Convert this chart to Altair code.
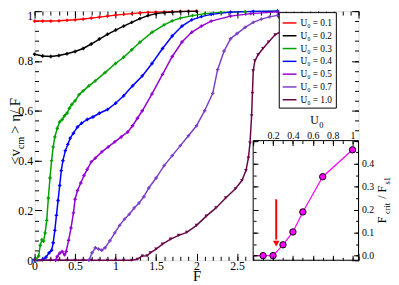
import altair as alt
import pandas as pd

# ---------------- data ----------------
LABELS = ["U₀ = 0.1", "U₀ = 0.2", "U₀ = 0.3", "U₀ = 0.4", "U₀ = 0.5", "U₀ = 0.7", "U₀ = 1.0"]
COLORS = ["#ff0000", "#000000", "#00a000", "#0000ff", "#9400d3", "#7b3fc8", "#670748"]

F_U01 = [0.0, 0.1, 0.2, 0.3, 0.4, 0.5, 0.6, 0.7, 0.8, 0.9, 1.0, 1.1, 1.2, 1.3, 1.4, 1.5, 1.6, 1.7, 1.8, 1.9, 2.0]
V_U01 = [0.960, 0.960, 0.960, 0.961, 0.963, 0.965, 0.968, 0.972, 0.976, 0.980, 0.984, 0.987, 0.990, 0.993,
         0.995, 0.996, 0.997, 0.998, 0.999, 0.999, 1.000]

F_U02 = [0.0, 0.1, 0.2, 0.3, 0.4, 0.5, 0.6, 0.7, 0.8, 0.9, 1.0, 1.1, 1.2, 1.3, 1.4, 1.5, 1.6, 1.7, 1.8, 1.9, 2.0]
V_U02 = [0.827, 0.820, 0.818, 0.822, 0.829, 0.838, 0.850, 0.868, 0.888, 0.907, 0.924, 0.940, 0.955, 0.970,
         0.982, 0.990, 0.994, 0.996, 0.998, 0.999, 0.999]

F_U03 = [0.0, 0.02, 0.05, 0.07, 0.09, 0.11, 0.13, 0.15, 0.17, 0.19, 0.21, 0.23, 0.25, 0.28, 0.31, 0.34, 0.37,
         0.40, 0.43, 0.46, 0.50, 0.55, 0.60, 0.67, 0.75, 0.87, 1.0, 1.1, 1.2, 1.3, 1.45, 1.6, 1.7, 1.8, 1.95,
         2.1, 2.3, 2.6, 3.0]
V_U03 = [0.0, 0.004, 0.017, 0.06, 0.082, 0.076, 0.11, 0.16, 0.25, 0.33, 0.40, 0.455, 0.495, 0.53, 0.555,
         0.565, 0.58, 0.59, 0.61, 0.625, 0.64, 0.665, 0.68, 0.70, 0.72, 0.753, 0.79, 0.815, 0.845, 0.875,
         0.915, 0.945, 0.961, 0.972, 0.982, 0.99, 0.995, 0.998, 1.0]

F_U04 = [0.0, 0.10, 0.14, 0.18, 0.21, 0.23, 0.25, 0.27, 0.29, 0.31, 0.33, 0.35, 0.38, 0.41, 0.44, 0.48, 0.53,
         0.58, 0.65, 0.72, 0.80, 0.90, 1.0, 1.1, 1.21, 1.33, 1.45, 1.58, 1.70, 1.82, 1.94, 2.06, 2.18, 2.42,
         2.7, 3.0]
V_U04 = [0.0, 0.003, 0.012, 0.03, 0.04, 0.07, 0.12, 0.18, 0.24, 0.30, 0.36, 0.40, 0.44, 0.465, 0.49, 0.51,
         0.535, 0.55, 0.565, 0.575, 0.59, 0.605, 0.63, 0.66, 0.70, 0.74, 0.79, 0.85, 0.90, 0.94, 0.965, 0.978,
         0.987, 0.996, 0.999, 1.0]

F_U05 = [0.0, 0.26, 0.28, 0.31, 0.34, 0.37, 0.39, 0.42, 0.45, 0.48, 0.50, 0.53, 0.57, 0.61, 0.65, 0.70, 0.75,
         0.83, 0.91, 0.99, 1.07, 1.15, 1.21, 1.27, 1.33, 1.45, 1.58, 1.70, 1.82, 1.94, 2.06, 2.18, 2.42, 2.67,
         3.0]
V_U05 = [0.0, 0.0, 0.015, 0.028, 0.035, 0.022, 0.035, 0.08, 0.13, 0.19, 0.245, 0.28, 0.31, 0.34, 0.365,
         0.395, 0.41, 0.435, 0.455, 0.475, 0.495, 0.515, 0.54, 0.57, 0.60, 0.668, 0.746, 0.818, 0.876, 0.915,
         0.94, 0.96, 0.98, 0.99, 0.997]

F_U07 = [0.0, 0.67, 0.71, 0.75, 0.79, 0.83, 0.87, 0.93, 0.99, 1.05, 1.11, 1.17, 1.23, 1.29, 1.35, 1.41, 1.50,
         1.60, 1.70, 1.80, 1.90, 2.0, 2.1, 2.2, 2.26, 2.34, 2.42, 2.5, 2.6, 2.7, 2.8, 2.9, 3.0]
V_U07 = [0.0, 0.0, 0.03, 0.05, 0.045, 0.04, 0.05, 0.078, 0.11, 0.14, 0.165, 0.185, 0.21, 0.23, 0.255, 0.29,
         0.33, 0.38, 0.42, 0.46, 0.50, 0.54, 0.60, 0.67, 0.765, 0.84, 0.889, 0.91, 0.935, 0.955, 0.968, 0.977,
         0.983]

F_U10 = [0.0, 0.1, 0.2, 0.3, 0.4, 0.5, 0.6, 0.7, 0.8, 0.9, 1.0, 1.1, 1.2, 1.27, 1.33, 1.39, 1.43, 1.5, 1.58,
         1.68, 1.78, 1.88, 2.0, 2.12, 2.24, 2.36, 2.48, 2.56, 2.61, 2.64, 2.66, 2.68, 2.69, 2.70, 2.72, 2.76,
         2.82, 2.89, 2.97, 3.1, 3.3, 3.5]
V_U10 = [0.0, 0.0, 0.0, 0.0, 0.0, 0.0, 0.0, 0.0, 0.0, 0.0, 0.0, 0.0, 0.0, 0.004, 0.017, 0.018, 0.03, 0.045,
         0.065, 0.085, 0.1, 0.112, 0.14, 0.177, 0.21, 0.25, 0.287, 0.32, 0.36, 0.41, 0.47, 0.58, 0.67, 0.76,
         0.80, 0.825, 0.85, 0.876, 0.905, 0.93, 0.96, 0.975]

INSET_U0 = [0.1, 0.2, 0.3, 0.4, 0.5, 0.7, 1.0]
INSET_FCRIT = [0.0, 0.0, 0.047, 0.103, 0.19, 0.343, 0.46]
INSET_LINE_U0 = [0.0, 0.1, 0.2, 0.3, 0.4, 0.5, 0.7, 1.0]
INSET_LINE_FCRIT = [0.0, 0.0, 0.0, 0.047, 0.103, 0.19, 0.343, 0.46]

ARROW_U0 = [0.232]
ARROW_FROM = [0.245]
ARROW_TO = [0.07]
ARROW_HEAD = [0.052]

# ---------------- layout constants ----------------
W, H = 329, 253
FONT = "Liberation Serif"
IN_X0, IN_X1 = 222, W
IN_Y0, IN_Y1 = H, 131.5

series_F = [F_U01, F_U02, F_U03, F_U04, F_U05, F_U07, F_U10]
series_V = [V_U01, V_U02, V_U03, V_U04, V_U05, V_U07, V_U10]
rows = []
for lab, fs, vs in zip(LABELS, series_F, series_V):
    for f, v in zip(fs, vs):
        rows.append({"F": f, "v": v, "series": lab})
curves = pd.DataFrame(rows)
inset_pts = pd.DataFrame({"u": INSET_U0, "fc": INSET_FCRIT})
inset_line = pd.DataFrame({"u": INSET_LINE_U0, "fc": INSET_LINE_FCRIT})
arrow = pd.DataFrame({"u": ARROW_U0, "a": ARROW_FROM, "b": ARROW_TO, "h": ARROW_HEAD})
dummy = pd.DataFrame({"F": [0.0], "v": [0.0]})
one = pd.DataFrame({"k": [0]})

MAJ_X = [i * 0.5 for i in range(9)]
MIN_X = [round(i * 0.1, 1) for i in range(41)]
MAJ_Y = [round(i * 0.2, 1) for i in range(6)]
MIN_Y = [round(i * 0.04, 2) for i in range(26)]
IN_MAJ_X = [0.0, 0.2, 0.4, 0.6, 0.8, 1.0]
IN_MIN_X = [round(i * 0.1, 1) for i in range(11)]
IN_MAJ_Y = [0.0, 0.1, 0.2, 0.3, 0.4, 0.5]
IN_MIN_Y = [round(i * 0.05, 2) for i in range(11)]


def xs():
    return alt.Scale(domain=[0, 4], nice=False, zero=False)


def ys():
    return alt.Scale(domain=[0, 1], nice=False, zero=False)


def ixs():
    return alt.Scale(domain=[0, 1.06], range=[IN_X0, IN_X1], nice=False, zero=False)


def iys():
    return alt.Scale(domain=[-0.02, 0.5], range=[IN_Y0, IN_Y1], nice=False, zero=False)


def ax(orient, values, size, offset=None, expr=None, z=0, fs=12, pad=1, **extra):
    kw = dict(orient=orient, values=values, tickSize=size, offset=-size if offset is None else offset,
              domain=False, grid=False, ticks=True, tickColor="black", tickWidth=1, title=None,
              zindex=z, labelFlush=False, labelOverlap=False)
    if expr is None:
        kw["labels"] = False
    else:
        kw.update(labels=True, labelExpr=expr, labelFont=FONT, labelFontSize=fs, labelColor="black",
                  labelPadding=pad)
    kw.update(extra)
    return alt.Axis(**kw)


legend = alt.Legend(title=None, orient="none", legendX=248, legendY=1, symbolType="stroke",
                    symbolSize=196, symbolStrokeWidth=1.5, labelFont=FONT, labelFontSize=9.5,
                    labelColor="black", rowPadding=0, padding=3, strokeColor="black",
                    fillColor="white", labelOffset=3)
color = alt.Color("series:N", scale=alt.Scale(domain=LABELS, range=COLORS), legend=legend)

lines = alt.Chart(curves).mark_line(strokeWidth=1.5).encode(
    x=alt.X("F:Q", scale=xs(), axis=ax("bottom", MAJ_X, 7,
            expr="datum.value <= 2.5 ? format(datum.value, '.1~f') : ''", pad=0)),
    y=alt.Y("v:Q", scale=ys(), axis=ax("left", MAJ_Y, 7, expr="format(datum.value, '.1~f')", pad=2,
            labelBaseline={"condition": {"test": "datum.value >= 1", "value": "top"}, "value": "middle"})),
    color=color,
)
pts = alt.Chart(curves).transform_filter(alt.datum.series != LABELS[-1]).mark_point(
    shape="cross", filled=True, size=12, opacity=1).encode(
    x=alt.X("F:Q", scale=xs(), axis=None), y=alt.Y("v:Q", scale=ys(), axis=None), color=color)
pts_m = alt.Chart(curves).transform_filter(alt.datum.series == LABELS[-1]).mark_point(
    shape="triangle-down", filled=True, size=14, opacity=1).encode(
    x=alt.X("F:Q", scale=xs(), axis=None), y=alt.Y("v:Q", scale=ys(), axis=None), color=color)

ticks_b = alt.Chart(dummy).mark_point(opacity=0).encode(
    x=alt.X("F:Q", scale=xs(), axis=ax("bottom", MIN_X, 4)),
    y=alt.Y("v:Q", scale=ys(), axis=ax("left", MIN_Y, 4)))
ticks_c = alt.Chart(dummy).mark_point(opacity=0).encode(
    x=alt.X("F:Q", scale=xs(), axis=ax("top", MAJ_X, 7)),
    y=alt.Y("v:Q", scale=ys(), axis=ax("right", MAJ_Y, 7)))
ticks_d = alt.Chart(dummy).mark_point(opacity=0).encode(
    x=alt.X("F:Q", scale=xs(), axis=ax("top", MIN_X, 4)),
    y=alt.Y("v:Q", scale=ys(), axis=ax("right", MIN_Y, 4)))

inset_bg = alt.Chart(one).mark_rect(fill="white", stroke="black", strokeWidth=1).encode(
    x=alt.X(datum=0.0, type="quantitative", scale=ixs(),
            axis=ax("top", IN_MAJ_X, 5, offset=-(IN_Y1 + 5),
                    expr="datum.value > 0 ? format(datum.value, '.1~f') : ''", z=1, fs=10, pad=0)),
    x2=alt.X2(datum=1.06),
    y=alt.Y(datum=-0.02, type="quantitative", scale=iys(),
            axis=ax("right", IN_MAJ_Y, 5, expr="datum.value < 0.45 ? format(datum.value, '.1f') : ''",
                    z=1, fs=10, pad=3)),
    y2=alt.Y2(datum=0.5),
)
in_line = alt.Chart(inset_line).mark_line(color="#ff00ff", strokeWidth=1.2).encode(
    x=alt.X("u:Q", scale=ixs(), axis=ax("top", IN_MIN_X, 3, offset=-(IN_Y1 + 3), z=1)),
    y=alt.Y("fc:Q", scale=iys(), axis=ax("right", IN_MIN_Y, 3, z=1)))
in_pts = alt.Chart(inset_pts).mark_point(shape="circle", filled=True, fill="#ff00ff", stroke="black",
                                          strokeWidth=1, size=42, opacity=1).encode(
    x=alt.X("u:Q", scale=ixs(), axis=ax("bottom", IN_MAJ_X, 5, z=1)),
    y=alt.Y("fc:Q", scale=iys(), axis=ax("left", IN_MAJ_Y, 5, offset=-(IN_X0 + 5), z=1)))
arr = alt.Chart(arrow).mark_rule(color="#ff0000", strokeWidth=2).encode(
    x=alt.X("u:Q", scale=ixs(), axis=ax("bottom", IN_MIN_X, 3, z=1)),
    y=alt.Y("a:Q", scale=iys(), axis=ax("left", IN_MIN_Y, 3, offset=-(IN_X0 + 3), z=1)),
    y2="b:Q")
arr_head = alt.Chart(arrow).mark_point(shape="triangle-down", filled=True, color="#ff0000", size=45,
                                       opacity=1).encode(
    x=alt.X("u:Q", scale=ixs(), axis=None), y=alt.Y("h:Q", scale=iys(), axis=None))


def txt(text, x, y, size, angle=0, align="left"):
    return alt.Chart(pd.DataFrame({"t": [text]})).mark_text(
        font=FONT, fontSize=size, angle=angle, align=align, baseline="alphabetic", color="black").encode(
        x=alt.value(x), y=alt.value(y), text="t:N")


texts = [
    txt("F", 165, H + 21.5, 15, align="center"),
    txt("<v", -15, 156, 15, angle=270),
    txt("cm", -10.5, 140, 10, angle=270),
    txt("> η/ F", -15, 124.5, 15, angle=270),
    txt("F", 357, 215.4, 12, angle=270),
    txt("crit", 360.5, 206, 8.5, angle=270),
    txt("/ F", 357, 190.5, 12, angle=270),
    txt("s1", 360.5, 176, 8.5, angle=270),
    txt("U", 280, 115, 12),
    txt("0", 289, 118.5, 8.5),
]

chart = alt.layer(
    ticks_b, ticks_c, ticks_d, lines, pts, pts_m, inset_bg, in_line, arr, arr_head, in_pts, *texts
).resolve_scale(x="independent", y="independent").properties(
    width=W, height=H, padding={"top": -2, "left": 0, "right": 0, "bottom": 0}, background="white"
).configure_view(stroke="black", strokeWidth=1).configure(font=FONT)

chart.save("out.html", embed_options={"renderer": "svg", "actions": False})
